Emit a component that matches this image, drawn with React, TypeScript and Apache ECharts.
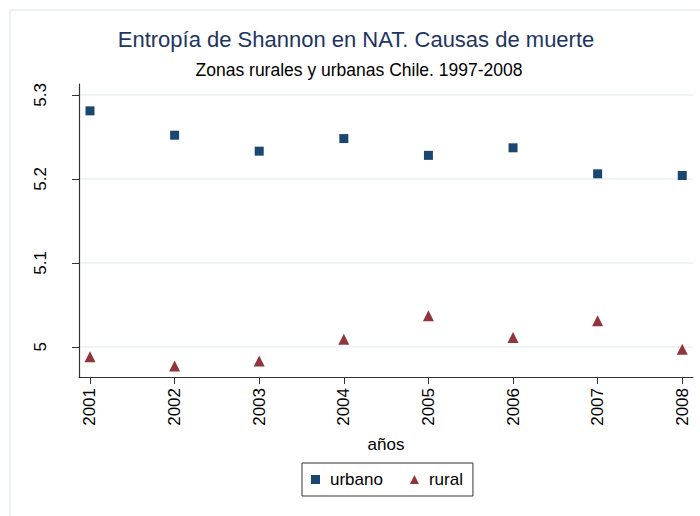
import React, { useEffect, useRef } from "react";
import * as echarts from "echarts";

const years = [2001, 2002, 2003, 2004, 2005, 2006, 2007, 2008];
const urbano = [5.281, 5.252, 5.233, 5.248, 5.228, 5.237, 5.206, 5.204];
const rural = [4.988, 4.977, 4.983, 5.009, 5.037, 5.011, 5.031, 4.997];
const yTicks = [5, 5.1, 5.2, 5.3];

const FONT = "'Liberation Sans', Arial, sans-serif";

export default function App() {
  const ref = useRef<HTMLDivElement>(null);
  useEffect(() => {
    if (!ref.current) return;
    const chart = echarts.init(ref.current, undefined, { renderer: "svg" });
    chart.setOption({
      animation: false,
      backgroundColor: "#ffffff",
      textStyle: { fontFamily: FONT },
      title: [
        {
          text: "Entropía de Shannon en NAT. Causas de muerte",
          left: 356,
          top: 28,
          textAlign: "center",
          textStyle: { fontFamily: FONT, fontSize: 22, fontWeight: "normal", color: "#1e3461" },
          padding: 0,
        },
        {
          text: "Zonas rurales y urbanas Chile. 1997-2008",
          left: 359,
          top: 61,
          textAlign: "center",
          textStyle: { fontFamily: FONT, fontSize: 17.5, fontWeight: "normal", color: "#000000" },
          padding: 0,
        },
      ],
      graphic: [
        {
          type: "rect",
          shape: { x: 10, y: 10, width: 720, height: 540 },
          style: { fill: "none", stroke: "#e6edf0", lineWidth: 1.5 },
          silent: true,
        },
      ],
      legend: {
        left: 302,
        top: 463,
        padding: [8, 10, 8, 9],
        itemGap: 27,
        itemWidth: 9,
        itemHeight: 9,
        borderColor: "#333333",
        borderWidth: 1,
        textStyle: { fontFamily: FONT, fontSize: 17, color: "#000000", padding: [0, 0, 0, 5] },
        data: [
          { name: "urbano", icon: "rect" },
          { name: "rural", icon: "triangle" },
        ],
      },
      grid: { left: 79, right: 7, top: 84, bottom: 139, containLabel: false },
      xAxis: {
        type: "value",
        min: 2000.87,
        max: 2008.127,
        name: "años",
        nameLocation: "middle",
        nameGap: 59,
        nameTextStyle: { fontFamily: FONT, fontSize: 17, color: "#000000" },
        axisLine: { show: true, onZero: false, lineStyle: { color: "#333333", width: 1.2 } },
        axisTick: { show: true, length: 7, lineStyle: { color: "#333333" }, customValues: years },
        axisLabel: {
          rotate: 90,
          margin: 11,
          fontFamily: FONT,
          fontSize: 17,
          color: "#000000",
          customValues: years,
          formatter: (v: number) => String(Math.round(v)),
        },
        splitLine: { show: false },
      },
      yAxis: {
        type: "value",
        min: 4.964,
        max: 5.313,
        axisLine: { show: true, onZero: false, lineStyle: { color: "#333333", width: 1.2 } },
        axisTick: { show: true, length: 7, lineStyle: { color: "#333333" }, customValues: yTicks },
        axisLabel: {
          rotate: 90,
          margin: 30,
          fontFamily: FONT,
          fontSize: 17,
          color: "#000000",
          customValues: yTicks,
          formatter: (v: number) => (Math.abs(v - 5) < 1e-9 ? "5" : v.toFixed(1)),
        },
        splitLine: { show: true, lineStyle: { color: "#eaf2f3", width: 1.5 } },
      },
      series: [
        {
          name: "urbano",
          type: "scatter",
          symbol: "rect",
          symbolSize: 9,
          itemStyle: { color: "#1a476f", opacity: 1 },
          data: years.map((y, i) => [y, urbano[i]]),
        },
        {
          name: "rural",
          type: "scatter",
          symbol: "triangle",
          symbolSize: 11,
          itemStyle: { color: "#90353b", opacity: 1 },
          data: years.map((y, i) => [y, rural[i]]),
        },
      ],
    });
    return () => chart.dispose();
  }, []);
  return <div ref={ref} style={{ width: 700, height: 516, position: "absolute", left: 0, top: 0 }} />;
}
